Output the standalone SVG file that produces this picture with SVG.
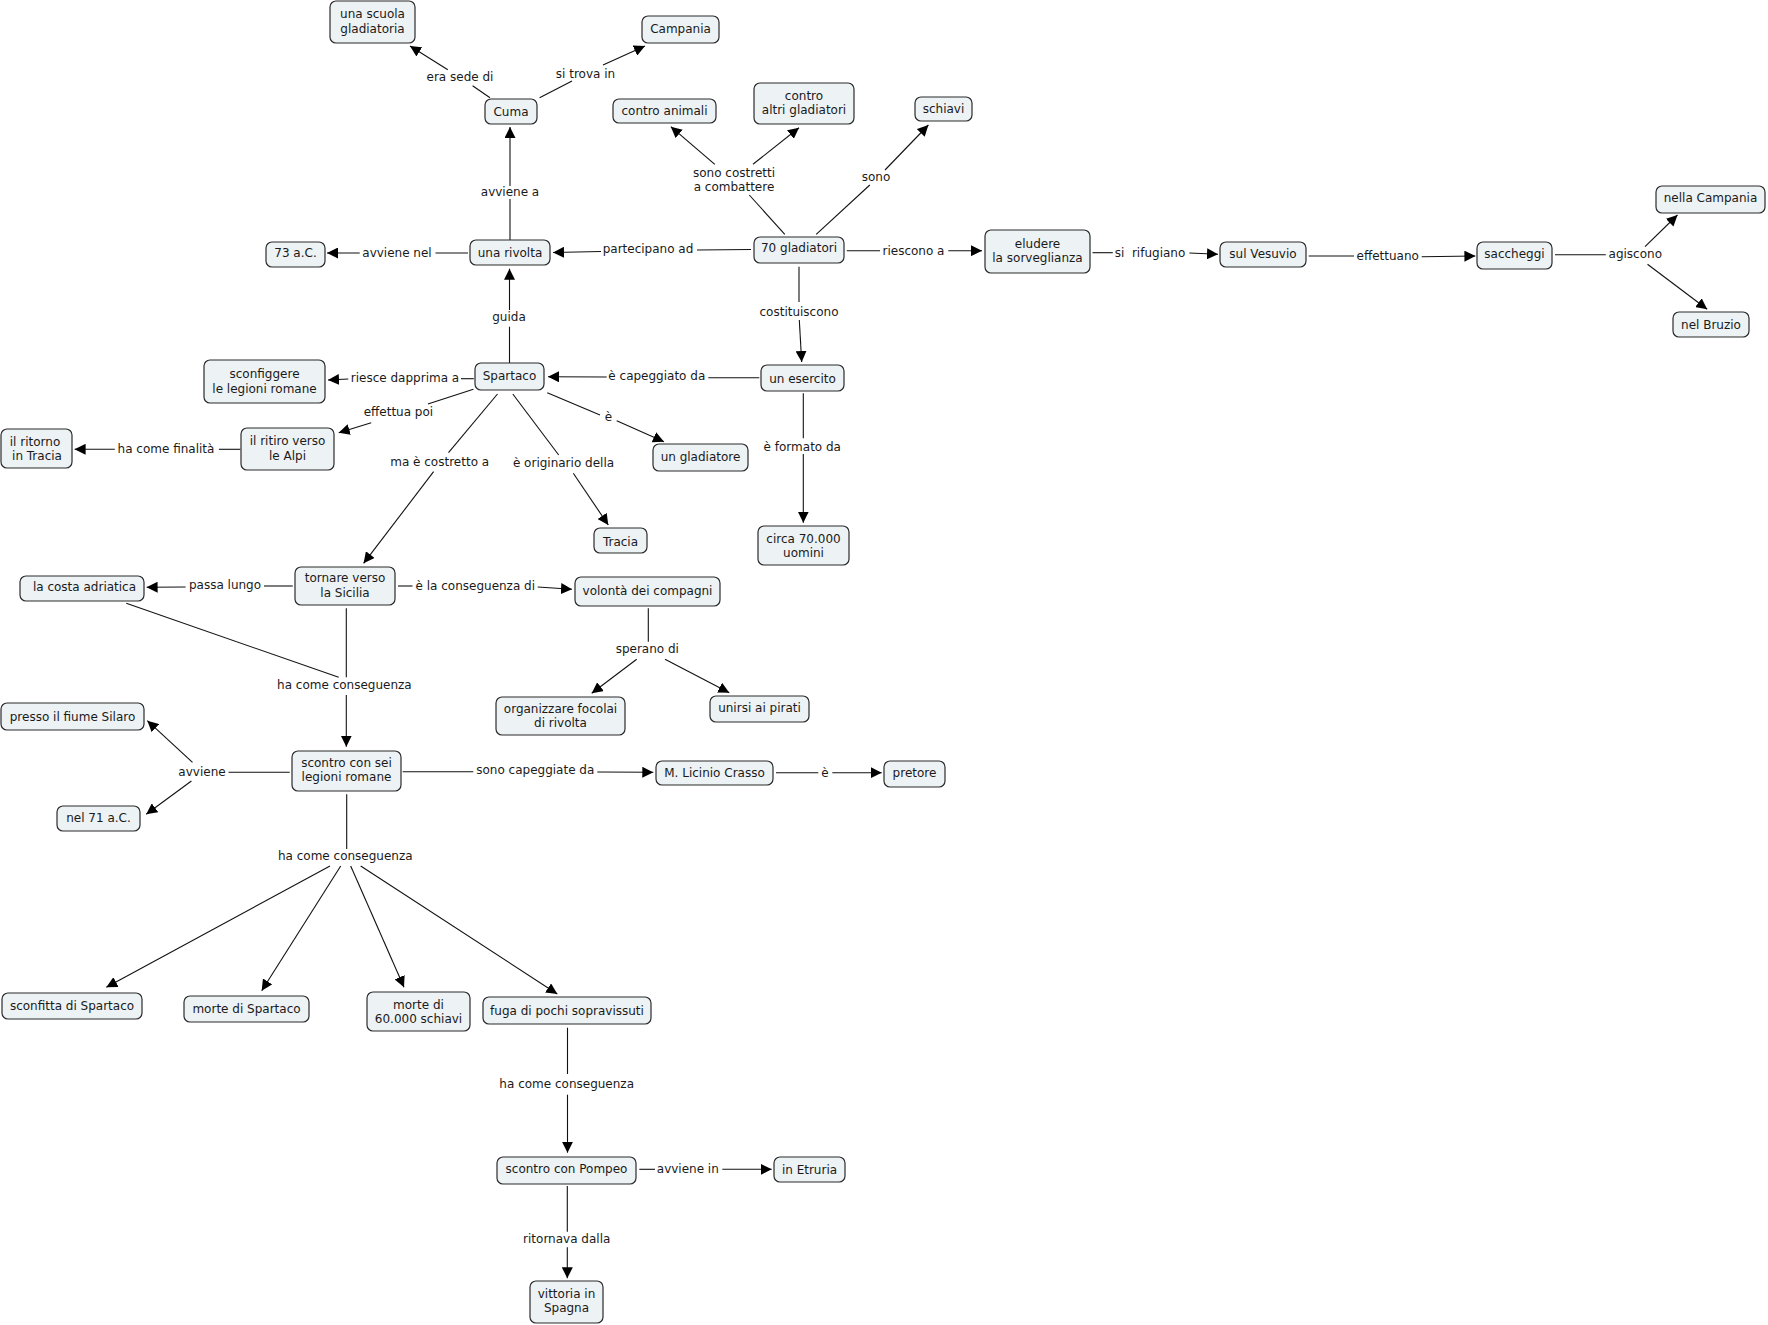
<svg xmlns="http://www.w3.org/2000/svg" width="1768" height="1325" viewBox="0 0 1768 1325">
<style>
.n rect{fill:#edf2f5;stroke:#2b2b2b;stroke-width:1.2}
text{font-family:"DejaVu Sans",Verdana,sans-serif;font-size:12px;fill:#1a1a1a;text-anchor:middle}
.c line{stroke:#111;stroke-width:1.1}
.c line.a{marker-end:url(#ah)}
</style>
<defs>
<marker id="ah" markerUnits="userSpaceOnUse" markerWidth="11" markerHeight="11" viewBox="0 0 10 10" refX="10" refY="5" orient="auto">
<path d="M0,0 L10,5 L0,10 z" fill="#000"/>
</marker>
</defs>
<rect width="1768" height="1325" fill="#fff"/>
<g class="c" id="connectors">
<line x1="490" y1="97.7" x2="472.6" y2="85.7"/><line class="a" x1="447.8" y1="69.7" x2="410" y2="46"/>
<line x1="539.6" y1="97.7" x2="572" y2="81"/><line class="a" x1="603" y1="65" x2="645" y2="46"/>
<line x1="510" y1="240" x2="510" y2="199"/><line class="a" x1="510" y1="186" x2="510" y2="127"/>
<line x1="468" y1="253" x2="435.5" y2="253"/><line class="a" x1="359.7" y1="253" x2="327" y2="253"/>
<line x1="751" y1="249.5" x2="697" y2="250"/><line class="a" x1="601" y1="251.5" x2="553" y2="252.5"/>
<line x1="784.8" y1="234.3" x2="749.3" y2="195"/><line class="a" x1="714.8" y1="164.3" x2="670.8" y2="126.7"/><line class="a" x1="753" y1="164.3" x2="799" y2="127.7"/>
<line x1="816.2" y1="234.3" x2="869.8" y2="185"/><line class="a" x1="885" y1="170" x2="928.4" y2="125"/>
<line x1="846.8" y1="250.7" x2="880" y2="250.7"/><line class="a" x1="948.3" y1="250.7" x2="982" y2="250.7"/>
<line x1="1092.5" y1="252.7" x2="1112.8" y2="252.7"/><line class="a" x1="1189.4" y1="253" x2="1218" y2="254.3"/>
<line x1="1308.7" y1="256" x2="1354" y2="256"/><line class="a" x1="1421.7" y1="256.7" x2="1475.4" y2="256"/>
<line x1="1555" y1="254.7" x2="1605.8" y2="254.7"/><line class="a" x1="1645" y1="246.7" x2="1677.5" y2="215"/><line class="a" x1="1647.5" y1="264.3" x2="1707.2" y2="309.3"/>
<line x1="799" y1="266.7" x2="799" y2="302"/><line class="a" x1="799.3" y1="320" x2="801.7" y2="362"/>
<line x1="509.5" y1="363" x2="509.5" y2="326.7"/><line class="a" x1="509.5" y1="310" x2="509.5" y2="268.7"/>
<line x1="759.3" y1="377.7" x2="708.3" y2="377.7"/><line class="a" x1="606.7" y1="377" x2="548" y2="376.7"/>
<line x1="473.8" y1="378.7" x2="461" y2="378.7"/><line class="a" x1="348.3" y1="379" x2="328" y2="380"/>
<line x1="473.4" y1="389.3" x2="427.9" y2="404"/><line class="a" x1="371.2" y1="422.7" x2="338.7" y2="432.7"/>
<line x1="240.3" y1="449.3" x2="218.9" y2="449.3"/><line class="a" x1="114.8" y1="449.3" x2="74.6" y2="449.3"/>
<line x1="497.5" y1="394" x2="448.5" y2="452.7"/><line class="a" x1="433.6" y1="471.7" x2="363.6" y2="563.3"/>
<line x1="512.8" y1="394" x2="558.7" y2="455"/><line class="a" x1="573.3" y1="473.3" x2="608.3" y2="525"/>
<line x1="547.3" y1="392.7" x2="600" y2="415"/><line class="a" x1="616.7" y1="420.7" x2="664" y2="441.7"/>
<line x1="803.3" y1="393.3" x2="803.3" y2="438.3"/><line class="a" x1="803.3" y1="454" x2="803.3" y2="522.7"/>
<line x1="292.8" y1="586" x2="264" y2="586"/><line class="a" x1="185.6" y1="587" x2="146.6" y2="587.3"/>
<line x1="398" y1="586" x2="412.5" y2="586"/><line class="a" x1="537.7" y1="587" x2="572" y2="589.3"/>
<line x1="126.3" y1="603.3" x2="338.7" y2="677.3"/><line x1="346.3" y1="608.3" x2="346.3" y2="677.3"/><line class="a" x1="346.3" y1="695" x2="346.3" y2="746.7"/>
<line x1="648.3" y1="608.3" x2="648.3" y2="641.7"/><line class="a" x1="636.7" y1="659.3" x2="591.7" y2="693.3"/><line class="a" x1="665" y1="659.3" x2="729.3" y2="692.7"/>
<line x1="289.7" y1="772.3" x2="228.5" y2="772.3"/><line class="a" x1="192.5" y1="762.3" x2="147.3" y2="720.7"/><line class="a" x1="191.4" y1="781" x2="146.2" y2="814.3"/>
<line x1="402.7" y1="771.7" x2="473.3" y2="771.7"/><line class="a" x1="597.3" y1="772" x2="653.3" y2="772.3"/>
<line x1="776" y1="772.7" x2="818.3" y2="772.7"/><line class="a" x1="832.3" y1="772.7" x2="881.7" y2="772.7"/>
<line x1="346.7" y1="794.3" x2="346.7" y2="849"/><line class="a" x1="330" y1="866" x2="106.3" y2="987.3"/><line class="a" x1="340.7" y1="866" x2="261.7" y2="990.7"/><line class="a" x1="350.7" y1="866" x2="404" y2="987.3"/><line class="a" x1="360.7" y1="866" x2="557.3" y2="994"/>
<line x1="567.5" y1="1027.7" x2="567.5" y2="1074"/><line class="a" x1="567.5" y1="1094.7" x2="567.5" y2="1152.7"/>
<line x1="639.3" y1="1169.3" x2="655" y2="1169.3"/><line class="a" x1="722.3" y1="1169.3" x2="771.7" y2="1169.3"/>
<line x1="567.3" y1="1186" x2="567.3" y2="1231.7"/><line class="a" x1="567.3" y1="1247.3" x2="567.3" y2="1278.3"/>
<text x="460" y="81">era sede di</text>
<text x="585.5" y="78">si trova in</text>
<text x="510" y="195.7">avviene a</text>
<text x="397" y="257.3">avviene nel</text>
<text x="648" y="253">partecipano ad</text>
<text x="734" y="176.7">sono costretti</text>
<text x="734" y="191">a combattere</text>
<text x="876" y="180.7">sono</text>
<text x="913.5" y="254.7">riescono a</text>
<text x="1150" y="256.7" xml:space="preserve">si  rifugiano</text>
<text x="1387.7" y="260">effettuano</text>
<text x="1635.3" y="258">agiscono</text>
<text x="509" y="321.3">guida</text>
<text x="799" y="315.7">costituiscono</text>
<text x="405" y="382">riesce dapprima a</text>
<text x="656.8" y="380">è capeggiato da</text>
<text x="398.4" y="416">effettua poi</text>
<text x="608.5" y="421">è</text>
<text x="166" y="453.3">ha come finalità</text>
<text x="439.7" y="465.7">ma è costretto a</text>
<text x="563.5" y="466.7">è originario della</text>
<text x="802.3" y="450.7">è formato da</text>
<text x="225" y="589">passa lungo</text>
<text x="475.3" y="590">è la conseguenza di</text>
<text x="344.4" y="689">ha come conseguenza</text>
<text x="647.3" y="653">sperano di</text>
<text x="202" y="776.3">avviene</text>
<text x="535.3" y="774">sono capeggiate da</text>
<text x="825" y="776.7">è</text>
<text x="345.3" y="860">ha come conseguenza</text>
<text x="566.7" y="1088">ha come conseguenza</text>
<text x="687.8" y="1173.3">avviene in</text>
<text x="566.7" y="1243">ritornava dalla</text>
</g>
<g class="n" id="n-scuola"><rect x="330" y="1" width="85" height="42" rx="6"/><text x="372.5" y="18">una scuola</text><text x="372.5" y="32.7">gladiatoria</text></g>
<g class="n" id="n-campania"><rect x="642" y="16" width="77" height="27" rx="6"/><text x="680.5" y="33.3">Campania</text></g>
<g class="n" id="n-cuma"><rect x="485" y="99" width="52" height="25" rx="6"/><text x="511" y="115.7">Cuma</text></g>
<g class="n" id="n-animali"><rect x="613" y="99" width="103" height="24" rx="6"/><text x="664.5" y="115">contro animali</text></g>
<g class="n" id="n-altri"><rect x="754" y="83" width="100" height="41" rx="6"/><text x="804" y="99.7">contro</text><text x="804" y="114">altri gladiatori</text></g>
<g class="n" id="n-schiavi"><rect x="915" y="97" width="57" height="24" rx="6"/><text x="943.5" y="113">schiavi</text></g>
<g class="n" id="n-73"><rect x="266" y="242" width="59" height="25" rx="6"/><text x="295.5" y="257.3">73 a.C.</text></g>
<g class="n" id="n-rivolta"><rect x="470" y="240" width="80" height="25" rx="6"/><text x="510" y="257">una rivolta</text></g>
<g class="n" id="n-gladiatori"><rect x="754" y="237" width="90" height="26" rx="6"/><text x="799" y="252.3">70 gladiatori</text></g>
<g class="n" id="n-eludere"><rect x="985" y="230" width="105" height="43" rx="6"/><text x="1037.5" y="248">eludere</text><text x="1037.5" y="262.3">la sorveglianza</text></g>
<g class="n" id="n-vesuvio"><rect x="1220" y="242" width="86" height="25" rx="6"/><text x="1263" y="258.3">sul Vesuvio</text></g>
<g class="n" id="n-saccheggi"><rect x="1477" y="242" width="75" height="27" rx="6"/><text x="1514.5" y="258.3">saccheggi</text></g>
<g class="n" id="n-nellacampania"><rect x="1656" y="186" width="109" height="27" rx="6"/><text x="1710.5" y="202.3">nella Campania</text></g>
<g class="n" id="n-bruzio"><rect x="1673" y="312" width="76" height="25" rx="6"/><text x="1711" y="329">nel Bruzio</text></g>
<g class="n" id="n-spartaco"><rect x="475" y="363" width="69" height="27" rx="6"/><text x="509.5" y="380">Spartaco</text></g>
<g class="n" id="n-esercito"><rect x="761" y="365" width="83" height="26" rx="6"/><text x="802.5" y="382.7">un esercito</text></g>
<g class="n" id="n-sconfiggere"><rect x="204" y="360" width="121" height="43" rx="6"/><text x="264.5" y="378">sconfiggere</text><text x="264.5" y="392.7">le legioni romane</text></g>
<g class="n" id="n-ritiro"><rect x="241" y="428" width="93" height="42" rx="6"/><text x="287.5" y="445.3">il ritiro verso</text><text x="287.5" y="459.7">le Alpi</text></g>
<g class="n" id="n-ritorno"><rect x="1" y="429" width="71" height="39" rx="6"/><text x="35" y="446.3">il ritorno</text><text x="37" y="460.3">in Tracia</text></g>
<g class="n" id="n-gladiatore"><rect x="653" y="444" width="95" height="27" rx="6"/><text x="700.5" y="460.7">un gladiatore</text></g>
<g class="n" id="n-tracia"><rect x="594" y="528" width="53" height="25" rx="6"/><text x="620.5" y="545.7">Tracia</text></g>
<g class="n" id="n-circa"><rect x="758" y="526" width="91" height="39" rx="6"/><text x="803.5" y="543">circa 70.000</text><text x="803.5" y="557.3">uomini</text></g>
<g class="n" id="n-tornare"><rect x="295" y="567" width="100" height="38" rx="6"/><text x="345" y="582.3">tornare verso</text><text x="345" y="596.7">la Sicilia</text></g>
<g class="n" id="n-costa"><rect x="20" y="576" width="124" height="25" rx="6"/><text x="84.5" y="591.3">la costa adriatica</text></g>
<g class="n" id="n-volonta"><rect x="575" y="577" width="145" height="29" rx="6"/><text x="647.5" y="594.7">volontà dei compagni</text></g>
<g class="n" id="n-organizzare"><rect x="496" y="697" width="129" height="38" rx="6"/><text x="560.5" y="713.3">organizzare focolai</text><text x="560.5" y="727.3">di rivolta</text></g>
<g class="n" id="n-unirsi"><rect x="710" y="696" width="99" height="26" rx="6"/><text x="759.5" y="711.7">unirsi ai pirati</text></g>
<g class="n" id="n-silaro"><rect x="1" y="703" width="143" height="27" rx="6"/><text x="72.5" y="720.7">presso il fiume Silaro</text></g>
<g class="n" id="n-scontro"><rect x="292" y="751" width="109" height="40" rx="6"/><text x="346.5" y="767.3">scontro con sei</text><text x="346.5" y="781">legioni romane</text></g>
<g class="n" id="n-crasso"><rect x="656" y="761" width="117" height="24" rx="6"/><text x="714.5" y="777">M. Licinio Crasso</text></g>
<g class="n" id="n-pretore"><rect x="884" y="761" width="61" height="26" rx="6"/><text x="914.5" y="777.3">pretore</text></g>
<g class="n" id="n-71"><rect x="57" y="806" width="83" height="25" rx="6"/><text x="98.5" y="822.3">nel 71 a.C.</text></g>
<g class="n" id="n-sconfitta"><rect x="2" y="993" width="140" height="26" rx="6"/><text x="72" y="1010">sconfitta di Spartaco</text></g>
<g class="n" id="n-morte"><rect x="184" y="996" width="125" height="26" rx="6"/><text x="246.5" y="1013">morte di Spartaco</text></g>
<g class="n" id="n-morte60"><rect x="367" y="992" width="103" height="39" rx="6"/><text x="418.5" y="1008.5">morte di</text><text x="418.5" y="1023">60.000 schiavi</text></g>
<g class="n" id="n-fuga"><rect x="483" y="997" width="168" height="27" rx="6"/><text x="567" y="1015">fuga di pochi sopravissuti</text></g>
<g class="n" id="n-pompeo"><rect x="497" y="1157" width="139" height="27" rx="6"/><text x="566.5" y="1173.3">scontro con Pompeo</text></g>
<g class="n" id="n-etruria"><rect x="774" y="1157" width="71" height="25" rx="6"/><text x="809.5" y="1173.5">in Etruria</text></g>
<g class="n" id="n-vittoria"><rect x="530" y="1281" width="73" height="42" rx="6"/><text x="566.5" y="1298">vittoria in</text><text x="566.5" y="1312.3">Spagna</text></g>
</svg>
